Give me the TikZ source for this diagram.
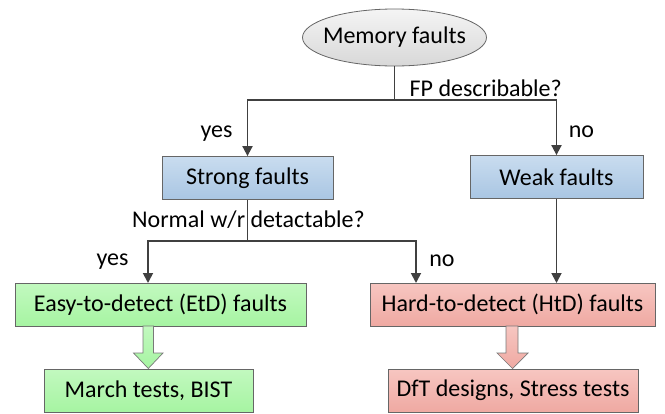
\documentclass[tikz,border=0pt]{standalone}
\usepackage{fontspec}
\setmainfont{Carlito}
\usetikzlibrary{arrows.meta,shapes.geometric}
\definecolor{lineg}{HTML}{404040}
\definecolor{blueA}{HTML}{C9DCEF}
\definecolor{blueB}{HTML}{A9C6E3}
\definecolor{greenA}{HTML}{C2F9BF}
\definecolor{greenB}{HTML}{A6F4A2}
\definecolor{redA}{HTML}{F7C6C1}
\definecolor{redB}{HTML}{EFA9A2}
\definecolor{grayA}{HTML}{F4F4F4}
\definecolor{grayB}{HTML}{D8D8D8}
\tikzset{
  txt/.style={font=\fontsize{24}{28}\selectfont, text=black},
  box/.style={txt, draw=lineg!80, line width=0.8pt, inner sep=0pt, minimum height=43pt},
  bluebox/.style={box, top color=blueA, bottom color=blueB},
  greenbox/.style={box, top color=greenA, bottom color=greenB},
  redbox/.style={box, top color=redA, bottom color=redB},
  conn/.style={draw=lineg, line width=1.8pt},
  arr/.style={conn, -{Triangle[width=10pt,length=10pt]}},
  lbl/.style={txt, inner sep=0pt},
}
\begin{document}
\begin{tikzpicture}[x=1pt,y=-1pt]
\useasboundingbox (0,0) rectangle (665,413);
\node[ellipse, txt, draw=lineg!80, line width=0.8pt, top color=grayA, bottom color=grayB,
      minimum width=184pt, minimum height=57pt, inner xsep=-12pt, inner ysep=0pt] (mem) at (394.5,37.5) {Memory faults};
\node[bluebox, minimum width=171pt] (strong) at (247.5,178) {Strong faults};
\node[bluebox, minimum width=173pt] (weak) at (556.5,177) {Weak faults};
\node[greenbox, minimum width=291pt] (etd) at (160.5,304.5) {Easy-to-detect (EtD) faults};
\node[redbox, minimum width=285pt] (htd) at (512.5,304.5) {Hard-to-detect (HtD) faults};
\node[greenbox, minimum width=209pt] (march) at (148.5,390.5) {March tests, BIST};
\node[redbox, minimum width=250pt] (dft) at (513,390.5) {DfT designs, Stress tests};

\coordinate (j1) at (394.5,100);
\coordinate (j2) at (247.5,241);
\draw[conn] (mem.south) -- (j1);
\draw[arr] (j1) -| (strong.north);
\draw[arr] (j1) -| (weak.north);
\draw[conn] (strong.south) -- (j2);
\draw[arr] (j2) -| (148,283);
\draw[arr] (j2) -| (416,283);
\draw[arr] (weak.south) -- (556.5,283);

\node[lbl, anchor=base west] (q1) at (409.5,96) {FP describable?};
\node[lbl, anchor=base] (y1) at (216.5,137) {yes};
\node[lbl, anchor=base] (n1) at (581.5,137) {no};
\node[lbl, anchor=base] (q2) at (248.5,227) {Normal w/r detactable?};
\node[lbl, anchor=base] (y2) at (112.5,265) {yes};
\node[lbl, anchor=base] (n2) at (442,266) {no};

% block arrows
\draw[draw=lineg!70, line width=0.7pt, top color=greenA, bottom color=greenB]
  (143,326) -- (153.5,326) -- (153.5,353) -- (163,353) -- (148.3,368.5) -- (133.5,353) -- (143,353) -- cycle;
\draw[draw=lineg!70, line width=0.7pt, top color=redA, bottom color=redB]
  (506,326) -- (518,326) -- (518,353) -- (528,353) -- (512.5,368.5) -- (497,353) -- (506,353) -- cycle;
\end{tikzpicture}
\end{document}
